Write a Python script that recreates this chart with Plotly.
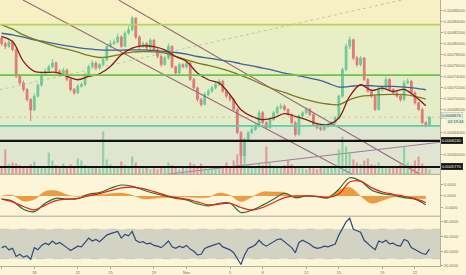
import pandas as pd
import plotly.graph_objects as go

# ---------------- data (prices in units of 1e-6) ----------------
PRICE_UNIT = 1e-6
start = "2018-10-15 00:00"

open_u = [810, 800, 795, 803, 789, 741, 729, 717, 699, 680,
          705, 725, 745, 750, 758, 765, 750, 744, 752, 735,
          717, 711, 723, 726, 744, 758, 765, 756, 762, 771,
          795, 800, 803, 812, 795, 819, 825, 846, 812, 795,
          800, 792, 806, 789, 777, 762, 774, 795, 758, 747,
          762, 758, 765, 735, 720, 699, 690, 708, 714, 720,
          726, 732, 714, 705, 699, 681, 639, 597, 627, 639,
          645, 651, 675, 657, 648, 663, 675, 684, 687, 681,
          672, 657, 636, 669, 675, 681, 672, 654, 648, 645,
          651, 654, 657, 666, 705, 753, 795, 807, 774, 762,
          774, 735, 714, 705, 681, 717, 720, 735, 717, 711,
          705, 699, 729, 732, 711, 693, 681, 657, 652]
high_u = [815, 803, 808, 806, 792, 745, 733, 720, 702, 710,
          728, 749, 755, 762, 772, 768, 754, 756, 755, 738,
          720, 727, 730, 748, 762, 770, 768, 765, 775, 798,
          806, 808, 818, 815, 823, 832, 850, 848, 815, 804,
          803, 810, 808, 792, 780, 778, 800, 797, 760, 766,
          765, 770, 768, 738, 722, 702, 712, 718, 724, 730,
          736, 735, 718, 708, 702, 684, 642, 630, 642, 650,
          655, 680, 678, 660, 667, 678, 688, 692, 690, 683,
          674, 660, 672, 678, 685, 684, 674, 657, 650, 655,
          657, 660, 669, 708, 757, 800, 813, 809, 778, 778,
          776, 738, 718, 708, 722, 724, 740, 738, 720, 714,
          708, 734, 737, 734, 714, 695, 684, 660, 669]
low_u = [796, 790, 792, 786, 738, 725, 713, 695, 660, 678,
         702, 722, 742, 747, 755, 746, 740, 741, 732, 713,
         707, 709, 720, 723, 741, 755, 752, 753, 759, 768,
         792, 797, 800, 792, 793, 816, 822, 808, 790, 792,
         788, 789, 786, 773, 758, 760, 771, 755, 743, 745,
         755, 755, 732, 716, 695, 686, 688, 705, 711, 717,
         723, 711, 701, 695, 678, 636, 581, 594, 624, 636,
         642, 648, 654, 645, 645, 660, 672, 681, 678, 669,
         654, 632, 633, 666, 672, 669, 651, 645, 642, 642,
         648, 651, 654, 663, 702, 750, 790, 770, 758, 759,
         732, 711, 702, 678, 679, 713, 717, 714, 708, 702,
         695, 696, 726, 708, 690, 678, 654, 649, 650]
close_u = [800, 795, 803, 789, 741, 729, 717, 699, 680, 705,
           725, 745, 750, 758, 765, 750, 744, 752, 735, 717,
           711, 723, 726, 744, 758, 765, 756, 762, 771, 795,
           800, 803, 812, 795, 819, 825, 846, 812, 795, 800,
           792, 806, 789, 777, 762, 774, 795, 758, 747, 762,
           758, 765, 735, 720, 699, 690, 708, 714, 720, 726,
           732, 714, 705, 699, 681, 639, 597, 627, 639, 645,
           651, 675, 657, 648, 663, 675, 684, 687, 681, 672,
           657, 636, 669, 675, 681, 672, 654, 648, 645, 651,
           654, 657, 666, 705, 753, 795, 807, 774, 762, 774,
           735, 714, 705, 681, 717, 720, 735, 717, 711, 705,
           699, 729, 732, 711, 693, 681, 657, 652, 667]
volume = [8, 25, 10, 12, 11, 9, 7, 6, 10, 13,
          7, 6, 8, 22, 14, 9, 6, 11, 8, 10,
          7, 16, 14, 9, 6, 8, 7, 6, 43, 15,
          10, 8, 7, 13, 9, 8, 18, 12, 7, 6,
          8, 5, 6, 5, 7, 8, 12, 9, 6, 5,
          7, 6, 12, 10, 8, 11, 6, 5, 7, 6,
          5, 6, 12, 8, 14, 20, 23, 18, 10, 8,
          7, 12, 9, 28, 12, 8, 7, 6, 9, 14,
          10, 8, 7, 6, 5, 7, 6, 5, 8, 6,
          7, 8, 10, 25, 38, 28, 22, 15, 12, 10,
          14, 16, 10, 9, 12, 8, 7, 6, 8, 7,
          10, 28, 12, 9, 14, 18, 11, 6, 5]
rsi = [45, 47, 42, 44, 33, 36, 32, 34, 29, 45,
       42, 48, 51, 49, 54, 50, 52, 49, 45, 41,
       44, 47, 46, 52, 58, 54, 56, 53, 57, 62,
       64, 66, 67, 58, 63, 61, 67, 55, 52, 53,
       50, 51, 48, 47, 45, 49, 54, 46, 44, 47,
       45, 48, 43, 40, 35, 36, 44, 46, 48, 50,
       51, 46, 44, 42, 38, 30, 22, 35, 44, 46,
       49, 55, 50, 47, 50, 53, 56, 57, 53, 50,
       45, 38, 52, 55, 53, 50, 46, 44, 45, 47,
       46, 48, 50, 62, 72, 80, 85, 70, 68, 66,
       55, 50, 46, 42, 54, 52, 55, 50, 51, 48,
       47, 56, 54, 45, 42, 40, 37, 36, 43]

# daily indicator samples
ma_fast = [812.7, 803.7, 767.7, 749.7, 747.9, 747.9, 740.7, 734.7, 740.7, 745.5,
           758.7, 779.7, 791.7, 795.9, 794.7, 788.7, 776.7, 767.7, 746.7, 734.7,
           728.6, 707.6, 680.6, 668.6, 662.6, 665.6, 673.4, 668.6, 662.6, 655.4,
           653.6, 665.6, 704.6, 725.6, 715.4, 719.6, 713.4, 717.2, 704.6, 687.8]
ma_mid = [833.8, 826.0, 815.7, 807.9, 800.7, 794.7, 789.9, 784.5, 778.5, 774.9,
          776.7, 780.9, 784.5, 785.7, 785.1, 782.7, 776.7, 770.7, 764.7, 760.5,
          755.7, 749.7, 742.5, 734.7, 725.6, 717.8, 711.8, 704.6, 698.6, 693.8,
          690.8, 689.6, 698.6, 704.6, 706.4, 707.6, 708.2, 707.6, 704.6, 699.8]
ma_slow = [818.7, 815.7, 811.5, 806.7, 803.1, 799.5, 795.9, 792.9, 790.5, 788.7,
           788.1, 788.1, 788.7, 788.7, 787.5, 785.7, 783.9, 780.9, 776.7, 773.7,
           770.7, 767.7, 763.5, 759.9, 755.7, 751.5, 746.7, 743.1, 738.9, 734.7,
           728.6, 721.4, 722.6, 724.4, 723.8, 722.6, 722.6, 721.4, 719.6, 716.6]
macd_line = [-0.29, -0.47, -1.18, -1.40, -0.65, -0.21, -0.29, -0.24, 0.15, 0.29,
             0.68, 0.97, 0.85, 0.53, 0.24, 0.00, -0.21, -0.35, -0.71, -0.88,
             -0.65, -0.65, -1.47, -1.26, -0.82, -0.29, 0.24, -0.15, 0.00, -0.06,
             -0.18, 0.59, 1.62, 1.32, 0.53, 0.21, 0.06, -0.15, -0.29, -0.79]
macd_signal = [-0.29, -0.53, -0.94, -1.24, -0.82, -0.41, -0.29, -0.21, 0.00, 0.21,
               0.47, 0.71, 0.79, 0.65, 0.38, 0.09, -0.15, -0.29, -0.53, -0.79,
               -0.74, -0.65, -1.03, -1.26, -1.03, -0.59, -0.15, 0.00, 0.00, -0.03,
               -0.12, 0.18, 1.24, 1.32, 0.74, 0.35, 0.15, -0.03, -0.24, -0.59]
macd_hist = [0.00, 0.06, -0.45, -0.30, 0.40, 0.45, 0.10, -0.05, 0.15, 0.10,
             0.20, 0.25, 0.05, -0.25, -0.20, -0.15, -0.10, -0.08, -0.15, -0.12,
             0.25, 0.05, -0.50, -0.10, 0.35, 0.35, 0.30, -0.10, 0.00, -0.05,
             -0.05, 0.50, 0.75, 0.00, -0.65, -0.40, -0.10, -0.10, -0.20, -0.25]

# horizontal levels (units 1e-6)
level_yellow = 834.4
level_green = 743.1
level_teal = 651.2
level_black_hi = 624.0
level_black_lo = 577.0
last_price = 667.0

# trendlines: (dates, prices)
trend_lower = (["2018-10-16 23:00", "2018-11-16 06:30"], [878.8, 563.5])
trend_upper = (["2018-10-25 18:15", "2018-11-22 11:30"], [878.8, 563.5])
trend_rising = (["2018-10-30 00:00", "2018-11-24 07:15"], [563.5, 621.7])
trend_dotted = (["2018-10-14 20:20", "2018-11-20 19:10"], [716.6, 878.8])

price_ticks = [600, 640, 680, 700, 720, 740, 760, 780, 800, 820, 840, 860]
macd_ticks = [1, 0, -1]
macd_tick_text = ["0.0000", "0.0000", "-0.0000"]
rsi_ticks = [20, 40, 60, 80]
tick_dates = ["2018-10-15", "2018-10-18", "2018-10-22", "2018-10-25", "2018-10-29",
              "2018-11-01", "2018-11-05", "2018-11-08", "2018-11-12", "2018-11-15",
              "2018-11-19", "2018-11-22"]
tick_labels = ["15", "18", "22", "25", "29", "Nov", "5", "8", "12", "15", "19", "22"]

x_range = ["2018-10-14 20:20", "2018-11-24 07:15"]
main_range = [563.7, 878.8]

# ---------------- build ----------------
times = pd.date_range(start, periods=len(close_u), freq="8h")
days = pd.date_range(start, periods=len(ma_fast), freq="D")
P = lambda arr: [v * PRICE_UNIT for v in arr]

GREEN = "#6fc898"
RED = "#e07a7a"
up = [c >= o for o, c in zip(open_u, close_u)]
vol_colors = ["rgba(120,200,150,0.75)" if u else "rgba(230,130,130,0.75)" for u in up]

fig = go.Figure()

fig.add_trace(go.Bar(x=times, y=volume, marker=dict(color=vol_colors, line=dict(width=0)),
                     width=8 * 3600 * 1000 * 0.6, xaxis="x", yaxis="y4", showlegend=False))

trend_col = "#9a6877"
for tl, col, dash, w in [(trend_lower, trend_col, "solid", 1.1),
                         (trend_upper, trend_col, "solid", 1.1),
                         (trend_rising, "#a6789a", "solid", 1.1),
                         (trend_dotted, "#b9c2a2", "dot", 0.9)]:
    fig.add_trace(go.Scatter(x=tl[0], y=P(tl[1]), mode="lines",
                             line=dict(color=col, width=w, dash=dash),
                             xaxis="x", yaxis="y", showlegend=False, hoverinfo="skip"))

fig.add_trace(go.Candlestick(x=times, open=P(open_u), high=P(high_u), low=P(low_u), close=P(close_u),
                             increasing=dict(line=dict(color=GREEN, width=1), fillcolor=GREEN),
                             decreasing=dict(line=dict(color=RED, width=1), fillcolor=RED),
                             whiskerwidth=0, xaxis="x", yaxis="y", showlegend=False))

for vals, col in [(ma_slow, "#3f5f9e"), (ma_mid, "#7f7a1e"), (ma_fast, "#8a1c14")]:
    fig.add_trace(go.Scatter(x=days, y=P(vals), mode="lines", line=dict(color=col, width=1.3, shape="spline"),
                             xaxis="x", yaxis="y", showlegend=False))

fig.add_trace(go.Scatter(x=days, y=macd_hist, mode="lines", fill="tozeroy",
                         line=dict(color="rgba(232,140,40,0.9)", width=0.5, shape="spline"),
                         fillcolor="rgba(232,140,40,0.85)", xaxis="x2", yaxis="y2", showlegend=False))
fig.add_trace(go.Scatter(x=days, y=macd_line, mode="lines", line=dict(color="#2f6a2a", width=1.2, shape="spline"),
                         xaxis="x2", yaxis="y2", showlegend=False))
fig.add_trace(go.Scatter(x=days, y=macd_signal, mode="lines", line=dict(color="#e2231a", width=1.2, shape="spline"),
                         xaxis="x2", yaxis="y2", showlegend=False))

fig.add_trace(go.Scatter(x=times, y=rsi, mode="lines", line=dict(color="#2d4a78", width=1.2),
                         xaxis="x3", yaxis="y3", showlegend=False))

shapes = []
def band(y0, y1, col):
    shapes.append(dict(type="rect", xref="x domain", yref="y", x0=0, x1=1,
                       y0=y0 * PRICE_UNIT, y1=y1 * PRICE_UNIT, fillcolor=col, line=dict(width=0), layer="below"))
band(level_yellow, main_range[1] + 5, "#f7f0c4")
band(level_green, level_yellow, "#e8efc4")
band(level_teal, level_green, "#e4edc8")
band(main_range[0] - 5, level_teal, "#e0e5d2")

def hline(y, col, w, dash="solid"):
    shapes.append(dict(type="line", xref="x domain", yref="y", x0=0, x1=1,
                       y0=y * PRICE_UNIT, y1=y * PRICE_UNIT, line=dict(color=col, width=w, dash=dash), layer="above"))
hline(last_price, "rgba(150,150,140,0.6)", 0.6, "dot")
hline(level_yellow, "#b5d45a", 1.8)
hline(level_green, "#6cc24a", 1.8)
hline(level_teal, "#5fcea4", 1.8)
hline(level_black_hi, "#111111", 2.2)
hline(level_black_lo, "#111111", 2.2)

shapes.append(dict(type="rect", xref="x3 domain", yref="y3", x0=0, x1=1, y0=30, y1=70,
                   fillcolor="#d3d3c4", line=dict(width=0), layer="below"))
for yv in (30, 70):
    shapes.append(dict(type="line", xref="x3 domain", yref="y3", x0=0, x1=1, y0=yv, y1=yv,
                       line=dict(color="#b8b8a8", width=0.6, dash="dash"), layer="below"))
for yp in (0.3446, 0.1873):
    shapes.append(dict(type="line", xref="paper", yref="paper", x0=0, x1=1, y0=yp, y1=yp,
                       line=dict(color="#a8a89a", width=1)))

annotations = []
def price_tag(y, text, bg, fg, border, x=1.002):
    annotations.append(dict(xref="paper", yref="y", x=x, y=y * PRICE_UNIT, text=text, showarrow=False,
                            xanchor="left", yanchor="middle", bgcolor=bg, bordercolor=border, borderwidth=0.5,
                            borderpad=0.5, font=dict(size=4, color=fg, family="Liberation Sans")))
price_tag(level_black_hi, "0.0006240", "#111111", "#ffffff", "#111111")
price_tag(level_black_lo, "0.0005770", "#111111", "#ffffff", "#111111")
price_tag(last_price + 2.5, "0.0006670", "#e6f2dc", "#333333", "#9cc29c")
price_tag(last_price - 7.0, "02:19:34", "#e6f2dc", "#333333", "#e6f2dc", x=1.015)

axis_font = dict(size=4, color="#6f6f66", family="Liberation Sans")
common_x = dict(type="date", range=x_range, showgrid=False, zeroline=False, rangeslider=dict(visible=False))

fig.update_layout(
    width=466, height=275,
    margin=dict(l=0, r=21, t=0, b=8),
    paper_bgcolor="#fcf5d8", plot_bgcolor="#fcf5d8",
    showlegend=False,
    shapes=shapes, annotations=annotations,
    xaxis=dict(**common_x, domain=[0, 1], anchor="y", showticklabels=False),
    xaxis2=dict(**common_x, domain=[0, 1], anchor="y2", matches="x", showticklabels=False),
    xaxis3=dict(**common_x, domain=[0, 1], anchor="y3", matches="x",
                tickmode="array", tickvals=tick_dates, ticktext=tick_labels, tickfont=axis_font,
                ticks="outside", ticklen=2, tickcolor="#aaa", showline=True, linecolor="#b0b0a0", linewidth=1),
    yaxis=dict(domain=[0.3446, 1], range=P(main_range), side="right",
               tickmode="array", tickvals=P(price_ticks), tickformat=".8f", tickfont=axis_font,
               ticks="outside", ticklen=2, tickcolor="#aaa", showgrid=False, zeroline=False,
               showline=True, linecolor="#b0b0a0", linewidth=1),
    yaxis4=dict(domain=[0.3446, 1], range=[0, 175], overlaying="y", visible=False),
    yaxis2=dict(domain=[0.1873, 0.3446], range=[-1.80, 1.92], side="right", anchor="x2",
                tickmode="array", tickvals=macd_ticks, ticktext=macd_tick_text,
                tickfont=axis_font, ticks="outside", ticklen=2, tickcolor="#aaa", showgrid=False,
                zeroline=False, showline=True, linecolor="#b0b0a0", linewidth=1),
    yaxis3=dict(domain=[0, 0.1873], range=[20, 87.76], side="right", anchor="x3",
                tickmode="array", tickvals=rsi_ticks, tickformat=".4f", tickfont=axis_font,
                ticks="outside", ticklen=2, tickcolor="#aaa", showgrid=False, zeroline=False,
                showline=True, linecolor="#b0b0a0", linewidth=1),
)

fig.write_html("out.html")
